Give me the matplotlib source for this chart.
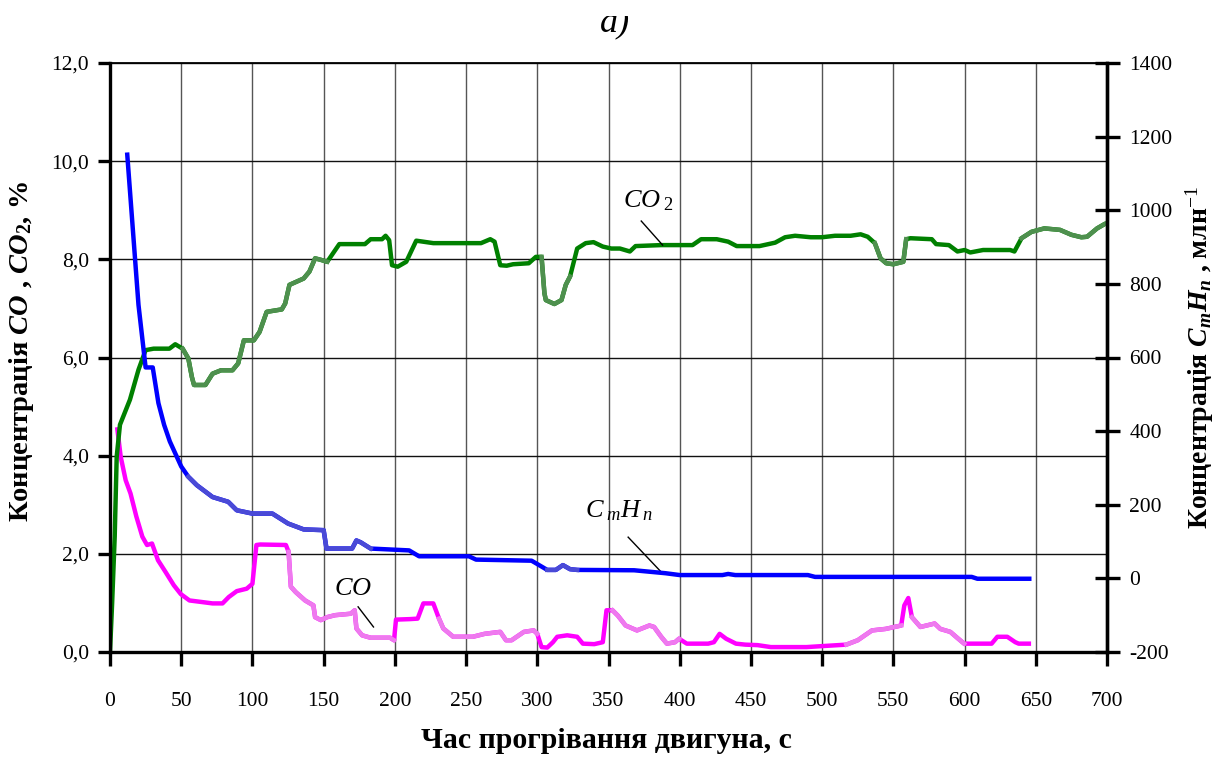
import numpy as np
import matplotlib
matplotlib.use("Agg")
import matplotlib.pyplot as plt
from matplotlib.ticker import FuncFormatter
from matplotlib.patches import Rectangle

plt.rcParams['font.family'] = ['Liberation Serif', 'DejaVu Serif']
plt.rcParams['mathtext.fontset'] = 'custom'
plt.rcParams['mathtext.rm'] = 'Liberation Serif:bold'
plt.rcParams['mathtext.it'] = 'Liberation Serif:italic:bold'
plt.rcParams['mathtext.bf'] = 'Liberation Serif:bold'
plt.rcParams['mathtext.sf'] = 'Liberation Serif:italic'
plt.rcParams['mathtext.tt'] = 'Liberation Serif'

# CO2, % (left axis)
co2_t = [0, 1.5, 3.3, 4.7, 7, 14, 20, 25, 30.6, 41.7,
         45.8, 51, 55, 57.5, 59, 67, 72, 78, 86, 90,
         94, 101, 105, 110, 120.6, 123, 126, 136, 140, 144,
         148, 152.5, 161, 179, 183, 191, 193.5, 196, 198, 202,
         208, 215, 227, 260.5, 267, 270, 274, 278.5, 283, 294,
         299, 303, 305, 306, 312, 317, 320, 323, 328, 334,
         339.5, 346, 352, 358, 365, 369, 387, 409, 415, 426,
         434, 440, 456, 467, 474, 481, 492, 500, 509, 520,
         527, 532, 537, 541, 545, 550, 557, 559, 562, 577,
         580, 589, 595, 600, 604, 613, 632, 635, 640, 647,
         656, 667, 675, 682, 686, 693, 699]
co2_v = [0, 1.0, 2.35, 3.98, 4.63, 5.14, 5.75, 6.15, 6.18, 6.18,
         6.27, 6.18, 5.98, 5.6, 5.44, 5.44, 5.67, 5.74, 5.74, 5.88,
         6.35, 6.35, 6.52, 6.93, 6.98, 7.1, 7.48, 7.61, 7.75, 8.02,
         7.99, 7.95, 8.31, 8.31, 8.41, 8.41, 8.48, 8.39, 7.88, 7.85,
         7.95, 8.38, 8.33, 8.33, 8.41, 8.36, 7.88, 7.87, 7.9, 7.92,
         8.05, 8.05, 7.31, 7.17, 7.09, 7.17, 7.48, 7.65, 8.22, 8.33,
         8.35, 8.26, 8.22, 8.22, 8.16, 8.27, 8.29, 8.29, 8.41, 8.41,
         8.36, 8.27, 8.27, 8.34, 8.45, 8.48, 8.45, 8.45, 8.48, 8.48,
         8.51, 8.46, 8.33, 8.02, 7.92, 7.9, 7.95, 8.41, 8.43, 8.41,
         8.31, 8.29, 8.16, 8.19, 8.14, 8.19, 8.19, 8.16, 8.43, 8.56,
         8.63, 8.6, 8.5, 8.45, 8.46, 8.63, 8.73]

# CO, % (left axis)
co_t = [5, 7.5, 11, 14.4, 18.5, 22.7, 26, 29.5, 33.7, 39,
        44.8, 49.7, 55.8, 64, 72, 79, 83.4, 89, 96, 100,
        102.8, 105.5, 123.5, 125.4, 127, 130.4, 137, 142.8, 144, 148,
        152.5, 158, 169, 171.8, 173, 177, 183, 196.7, 199.4, 200.8,
        210.5, 216, 220, 227, 231, 234, 241, 254.7, 263, 274,
        278, 282, 290.6, 297.5, 300, 303, 307, 311, 314, 321,
        328, 332, 340, 346, 348.6, 352.8, 356.6, 362, 370, 378.7,
        382, 387, 391, 396.7, 399.5, 405, 420, 424, 428, 432.6,
        439.5, 446, 454.7, 464, 489, 500, 517, 525, 535, 544.5,
        555.5, 557.7, 560.5, 563, 569, 579, 583, 590, 595.6, 599.7,
        619, 623, 630, 635.6, 638, 646.7]
co_v = [4.58, 3.98, 3.5, 3.23, 2.76, 2.35, 2.18, 2.21, 1.87, 1.63,
        1.36, 1.18, 1.05, 1.02, 0.99, 0.99, 1.12, 1.24, 1.29, 1.39,
        2.18, 2.19, 2.18, 2.04, 1.33, 1.22, 1.05, 0.95, 0.71, 0.65,
        0.71, 0.75, 0.78, 0.85, 0.48, 0.34, 0.29, 0.29, 0.24, 0.66,
        0.67, 0.68, 0.99, 0.99, 0.68, 0.48, 0.31, 0.31, 0.37, 0.41,
        0.24, 0.24, 0.41, 0.44, 0.37, 0.10, 0.09, 0.2, 0.31, 0.34,
        0.31, 0.17, 0.16, 0.2, 0.85, 0.85, 0.74, 0.54, 0.44, 0.54,
        0.51, 0.31, 0.17, 0.2, 0.27, 0.17, 0.17, 0.2, 0.37, 0.27,
        0.17, 0.15, 0.14, 0.1, 0.1, 0.12, 0.15, 0.24, 0.44, 0.47,
        0.54, 0.95, 1.1, 0.71, 0.51, 0.58, 0.47, 0.41, 0.27, 0.17,
        0.17, 0.31, 0.31, 0.2, 0.17, 0.17]

# CmHn, млн-1 (right axis)
hc_t = [12, 20, 25, 30, 34, 38, 42, 50, 55, 61,
        72, 83, 89, 100, 114, 125, 136, 150, 152, 170,
        173, 176, 183, 210, 217, 252, 257, 296, 307, 313,
        318, 323, 328, 368, 390, 400, 430, 434, 439, 490,
        495, 605, 609, 647]
hc_v = [1157, 743, 573, 573, 476, 417, 372, 304, 276, 253,
        221, 208, 185, 176, 176, 149, 133, 131, 81, 81,
        103, 98, 81, 76, 60, 60, 51, 48, 23, 23,
        36, 25, 23, 22, 14, 9, 9, 12, 9, 9,
        4, 4, -1, -1]

x_ticks = np.arange(0, 701, 50)
left_ticks = np.arange(0, 12.1, 2)
right_ticks = np.arange(-200, 1401, 200)

fig = plt.figure(figsize=(12.3, 7.58), dpi=100)
ax = fig.add_axes([110/1230, 1-652/758, 997/1230, 589/758])
ax2 = ax.twinx()


def draw(a, t, v, base, light, ranges, lw=3.2):
    t = np.array(t)
    v = np.array(v)
    a.plot(t, v, color=base, lw=lw, solid_joinstyle='round', solid_capstyle='butt')
    for lo, hi in ranges:
        m = (t >= lo) & (t <= hi)
        a.plot(t[m], v[m], color=light, lw=lw, solid_joinstyle='round')


draw(ax, co_t, co_v, '#ff00ff', '#ee7aee',
     [(125, 200), (231, 300), (352, 400), (517, 557), (563, 600)])
draw(ax, co2_t, co2_v, '#008000', '#4e904e',
     [(51, 160), (303, 323), (537, 559), (640, 699)])
draw(ax2, hc_t, hc_v, '#0000ff', '#4a4ad6',
     [(55, 183), (307, 330)])

ax.set_xlim(0, 700)
ax.set_ylim(0, 12)
ax2.set_ylim(-200, 1400)
ax.set_xticks(x_ticks)
ax.set_yticks(left_ticks)
ax2.set_yticks(right_ticks)
ax.yaxis.set_major_formatter(FuncFormatter(lambda v, p: ('%.1f' % v).replace('.', ',')))
ax2.yaxis.set_major_formatter(FuncFormatter(lambda v, p: '%d' % v))

ax.xaxis.grid(True, color='#555555', lw=1.0)
ax.yaxis.grid(True, color='#111111', lw=1.0)
ax.set_axisbelow(True)

for s in ['left', 'bottom', 'right']:
    ax.spines[s].set_linewidth(2.4)
ax.spines['top'].set_linewidth(1.3)
for s in ['left', 'bottom', 'top']:
    ax2.spines[s].set_visible(False)
ax2.spines['right'].set_linewidth(2.4)

ax.tick_params(axis='y', direction='out', length=9, width=2.4, pad=6, labelsize=15.5)
ax.tick_params(axis='x', direction='out', length=10, width=2.4, pad=19, labelsize=15.5)
ax2.tick_params(axis='y', direction='inout', length=18, width=2.4, pad=7, labelsize=15.5)

# labels on the curves
ax.text(377.8, 9.2, r'$\mathsf{CO}\,_{\mathtt{2}}$', fontsize=19, ha='center', va='center')
ax.plot([373, 388], [8.78, 8.29], color='black', lw=1)
ax.text(357.4, 2.87, r'$\mathsf{C}\,_{\mathsf{m}}\mathsf{H}\,_{\mathsf{n}}$', fontsize=19, ha='center', va='center')
ax.plot([363.8, 388.3], [2.34, 1.59], color='black', lw=1)
ax.text(170.6, 1.28, r'$\mathsf{CO}$', fontsize=19, ha='center', va='center')
ax.plot([174.2, 185], [0.92, 0.51], color='black', lw=1)

fig.text(22/1230, 1-352/758, r'Концентрація $CO$ , $CO_2$, %', rotation=90,
         fontsize=20.5, fontweight='bold', ha='center', va='center')
fig.text(1200/1230, 1-357/758, r'Концентрація $C_mH_n$ , млн$^{\mathtt{-1}}$', rotation=90,
         fontsize=20, fontweight='bold', ha='center', va='center')
fig.text(606/1230, 1-740/758, 'Час прогрівання двигуна, с',
         fontsize=21.5, fontweight='bold', ha='center', va='center')

fig.text(615/1230, 1-31/758, 'а)', fontsize=26, style='italic', ha='center', va='baseline')
fig.add_artist(Rectangle((0, 1-16/758), 1, 16/758, transform=fig.transFigure,
                         facecolor='white', edgecolor='none', zorder=10))

fig.savefig('out.png', dpi=100)
